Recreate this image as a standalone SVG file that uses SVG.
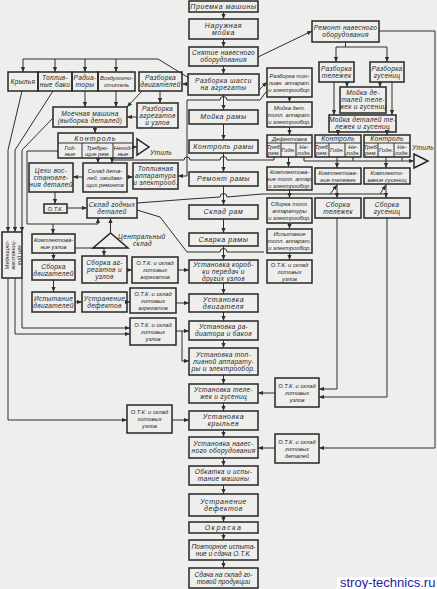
<svg xmlns="http://www.w3.org/2000/svg" width="437" height="589" viewBox="0 0 437 589">
<style>
.b{fill:none;stroke:#262626;stroke-width:1.5}
.t{font-family:"Liberation Sans",Arial,sans-serif;font-style:italic;font-size:6.6px;letter-spacing:0.3px;fill:#262626;text-anchor:middle}
.m{font-size:7px;letter-spacing:0.6px}
.s{font-size:5.8px;letter-spacing:0}
.c{fill:none;stroke:#2e2e2e;stroke-width:1}
.ca{fill:none;stroke:#2e2e2e;stroke-width:1;marker-end:url(#a)}
</style>
<defs>
<marker id="a" viewBox="0 0 6 6" refX="6" refY="3" markerWidth="5" markerHeight="5" markerUnits="userSpaceOnUse" orient="auto"><path d="M0,0.5 L6,3 L0,5.5z" fill="#2e2e2e"/></marker>
</defs>
<rect width="437" height="589" fill="#eeeeec"/>

<!-- main column -->
<g id="n1"><rect class="b" x="189" y="1" width="69" height="11"/><text class="t m" x="223.5" y="9">Приемка машины</text></g>
<g id="n2"><rect class="b" x="189" y="19" width="69" height="20"/><text class="t m" x="223.5" y="27.8">Наружная<tspan x="223.5" dy="7">мойка</tspan></text></g>
<g id="n3"><rect class="b" x="189" y="47" width="69" height="19"/><text class="t" x="223.5" y="55.3">Снятие навесного<tspan x="223.5" dy="7">оборудования</tspan></text></g>
<g id="n4"><rect class="b" x="188" y="74" width="71" height="21"/><text class="t" x="223.5" y="83.3" style="letter-spacing:0.5px">Разборка шасси<tspan x="223.5" dy="7">на агрегаты</tspan></text></g>
<g id="n5"><rect class="b" x="189" y="110" width="69" height="14"/><text class="t m" x="223.5" y="119.3">Мойка рамы</text></g>
<g id="n6"><rect class="b" x="189" y="140" width="69" height="13"/><text class="t m" x="223.5" y="148.8">Контроль рамы</text></g>
<g id="n7"><rect class="b" x="189" y="172" width="69" height="14"/><text class="t m" x="223.5" y="181.3">Ремонт рамы</text></g>
<g id="n8"><rect class="b" x="189" y="205" width="69" height="14"/><text class="t m" x="223.5" y="214.3">Склад рам</text></g>
<g id="n9"><rect class="b" x="189" y="233" width="69" height="13"/><text class="t m" x="223.5" y="241.8">Сварка рамы</text></g>
<g id="n10"><rect class="b" x="189" y="260" width="69" height="23"/><text class="t" x="223.5" y="266.8">Установка короб-<tspan x="223.5" dy="7">ки передач и</tspan><tspan x="223.5" dy="7">других узлов</tspan></text></g>
<g id="n11"><rect class="b" x="189" y="294" width="69" height="18"/><text class="t m" x="223.5" y="301.8">Установка<tspan x="223.5" dy="7">двигателя</tspan></text></g>
<g id="n12"><rect class="b" x="189" y="321" width="69" height="19"/><text class="t" x="223.5" y="329.3">Установка ра-<tspan x="223.5" dy="7">диатора и баков</tspan></text></g>
<g id="n13"><rect class="b" x="189" y="348" width="69" height="27"/><text class="t" x="223.5" y="356.8">Установка топ-<tspan x="223.5" dy="7">ливной аппарату-</tspan><tspan x="223.5" dy="7">ры и электрообор.</tspan></text></g>
<g id="n14"><rect class="b" x="189" y="384" width="69" height="19"/><text class="t" x="223.5" y="392.3">Установка теле-<tspan x="223.5" dy="7">жек и гусениц</tspan></text></g>
<g id="n15"><rect class="b" x="189" y="411" width="69" height="19"/><text class="t m" x="223.5" y="419.3">Установка<tspan x="223.5" dy="7">крыльев</tspan></text></g>
<g id="n16"><rect class="b" x="189" y="437" width="69" height="21"/><text class="t" x="223.5" y="446.3">Установка навес-<tspan x="223.5" dy="7">ного оборудования</tspan></text></g>
<g id="n17"><rect class="b" x="189" y="466" width="69" height="19"/><text class="t" x="223.5" y="474.3">Обкатка и испы-<tspan x="223.5" dy="7">тание машины</tspan></text></g>
<g id="n18"><rect class="b" x="189" y="494" width="69" height="22"/><text class="t m" x="223.5" y="503.8">Устранение<tspan x="223.5" dy="7">дефектов</tspan></text></g>
<g id="n19"><rect class="b" x="189" y="522" width="69" height="11"/><text class="t m" x="223.5" y="529.8" style="letter-spacing:1.5px">Окраска</text></g>
<g id="n20"><rect class="b" x="189" y="540" width="69" height="20"/><text class="t" x="223.5" y="548.8" style="letter-spacing:0">Повторное испыта-<tspan x="223.5" dy="7">ние и сдача О.Т.К.</tspan></text></g>
<g id="n21"><rect class="b" x="189" y="568" width="69" height="20"/><text class="t" x="223.5" y="576.8" style="letter-spacing:0">Сдача на склад го-<tspan x="223.5" dy="7">товой продукции</tspan></text></g>

<!-- left top -->
<g id="krylya"><rect class="b" x="8" y="72" width="30" height="19"/><text class="t" x="23" y="83.8">Крылья</text></g>
<g id="baki"><rect class="b" x="38" y="72" width="34" height="19"/><text class="t" x="55" y="80.3">Топлив-<tspan x="55" dy="7">ные баки</tspan></text></g>
<g id="radiatory"><rect class="b" x="72" y="72" width="26" height="19"/><text class="t" x="85" y="80.3">Радиа-<tspan x="85" dy="7">торы</tspan></text></g>
<g id="vozduh"><rect class="b" x="98" y="72" width="37" height="19"/><text class="t s" x="116.5" y="80.3">Воздухоочи-<tspan x="116.5" dy="7">ститель</tspan></text></g>
<g id="razb_dv"><rect class="b" x="139" y="72" width="43" height="19"/><text class="t" x="160.5" y="80.3">Разборка<tspan x="160.5" dy="7">двигателей</tspan></text></g>
<g id="moech"><rect class="b" x="53" y="107" width="74" height="20"/><text class="t" x="90" y="115.8">Моечная машина<tspan x="90" dy="7">(выборка деталей)</tspan></text></g>
<g id="razb_agr"><rect class="b" x="137" y="103" width="41" height="25"/><text class="t" x="157.5" y="110.8">Разборка<tspan x="157.5" dy="7">агрегатов</tspan><tspan x="157.5" dy="7">и узлов</tspan></text></g>
<g id="kontrol_l"><rect class="b" x="58" y="133" width="75" height="25"/><path class="c" d="M58,143H133M82,143V158M113,143V158"/><text class="t m" x="95.5" y="140.5" style="letter-spacing:1.2px">Контроль</text><text class="t s" x="70" y="149.5">Год-<tspan x="70" dy="6">ные</tspan></text><text class="t s" x="97.5" y="149.5">Требую-<tspan x="97.5" dy="6">щие рем.</tspan></text><text class="t s" x="123" y="149.5">Негод-<tspan x="123" dy="6">ные</tspan></text></g>
<g id="util_l"><path class="b" d="M137,139V155L149,147Z"/><text class="t" x="150" y="155" style="text-anchor:start">Утиль</text></g>
<g id="cehi"><rect class="b" x="29" y="163" width="44" height="29"/><text class="t" x="51" y="172.8">Цехи вос-<tspan x="51" dy="7">становле-</tspan><tspan x="51" dy="7">ния деталей</tspan></text></g>
<g id="sklad_ozh"><rect class="b" x="83" y="163" width="44" height="29"/><text class="t s" x="105" y="172.8">Склад дета-<tspan x="105" dy="7">лей, ожидаю-</tspan><tspan x="105" dy="7">щих ремонта</tspan></text></g>
<g id="topl_l"><rect class="b" x="133" y="163" width="45" height="26"/><text class="t" x="155.5" y="171.3">Топливная<tspan x="155.5" dy="7">аппаратура</tspan><tspan x="155.5" dy="7">и электрооб.</tspan></text></g>
<g id="otk_l"><rect class="b" x="44" y="204" width="23" height="9"/><text class="t s" x="55.5" y="210.8">О.Т.К.</text></g>
<g id="sklad_god"><rect class="b" x="87" y="198" width="50" height="20"/><text class="t" x="112" y="206.8">Склад годных<tspan x="112" dy="7">деталей</tspan></text></g>
<g id="central"><path class="b" d="M93,248H128L110.5,233Z"/><text class="t" x="118" y="238.5" style="text-anchor:start">Центральный</text><text class="t" x="133" y="245.5" style="text-anchor:start">склад</text></g>
<g id="mednic"><rect class="b" x="2" y="232" width="20" height="46"/><text class="t s" transform="translate(12,255) rotate(-90)"><tspan x="0" y="-3.5">Медницко-</tspan><tspan x="0" y="2.5">жестяниц-</tspan><tspan x="0" y="8.5">кий цех</tspan></text></g>
<g id="kompl_uz"><rect class="b" x="32" y="234" width="43" height="19"/><text class="t s" x="53.5" y="242.3">Комплектова-<tspan x="53.5" dy="7">ние узлов</tspan></text></g>
<g id="sb_dv"><rect class="b" x="32" y="260" width="43" height="20"/><text class="t" x="53.5" y="268.8">Сборка<tspan x="53.5" dy="7">двигателей</tspan></text></g>
<g id="sb_agr"><rect class="b" x="82" y="256" width="45" height="27"/><text class="t" x="104.5" y="264.8">Сборка аг-<tspan x="104.5" dy="7">регатов и</tspan><tspan x="104.5" dy="7">узлов</tspan></text></g>
<g id="otkA"><rect class="b" x="132" y="257" width="46" height="26"/><text class="t s" x="155" y="265.3">О.Т.К. и склад<tspan x="155" dy="7">готовых</tspan><tspan x="155" dy="7">агрегатов</tspan></text></g>
<g id="isp_dv"><rect class="b" x="32" y="292" width="43" height="20"/><text class="t" x="53.5" y="300.8">Испытание<tspan x="53.5" dy="7">двигателей</tspan></text></g>
<g id="ustr_l"><rect class="b" x="82" y="292" width="45" height="20"/><text class="t" x="104.5" y="300.8">Устранение<tspan x="104.5" dy="7">дефектов</tspan></text></g>
<g id="otkB"><rect class="b" x="130" y="288" width="46" height="25"/><text class="t s" x="153" y="295.8">О.Т.К. и склад<tspan x="153" dy="7">готовых</tspan><tspan x="153" dy="7">агрегатов</tspan></text></g>
<g id="otkC"><rect class="b" x="130" y="318" width="46" height="27"/><text class="t s" x="153" y="326.8">О.Т.К. и склад<tspan x="153" dy="7">готовых</tspan><tspan x="153" dy="7">узлов</tspan></text></g>
<g id="otkD"><rect class="b" x="127" y="405" width="45" height="28"/><text class="t s" x="149.5" y="414.3">О.Т.К. и склад<tspan x="149.5" dy="7">готовых</tspan><tspan x="149.5" dy="7">узлов</tspan></text></g>

<!-- right -->
<g id="rem_nav"><rect class="b" x="312" y="21" width="67" height="21"/><text class="t" x="345.5" y="29.8">Ремонт навесного<tspan x="345.5" dy="7">оборудования</tspan></text></g>
<g id="razb_tel"><rect class="b" x="319" y="62" width="35" height="20"/><text class="t" x="336.5" y="70.8">Разборка<tspan x="336.5" dy="7">тележек</tspan></text></g>
<g id="razb_gus"><rect class="b" x="370" y="62" width="34" height="20"/><text class="t" x="387" y="70.8">Разборка<tspan x="387" dy="7">гусениц</tspan></text></g>
<g id="moika_up"><rect class="b" x="340" y="87" width="46" height="26"/><text class="t" x="363" y="95.3">Мойка де-<tspan x="363" dy="7">талей теле-</tspan><tspan x="363" dy="7">жек и гусениц</tspan></text></g>
<g id="moika_low"><rect class="b" x="329" y="115" width="67" height="17"/><text class="t" x="362.5" y="122.3">Мойка деталей те-<tspan x="362.5" dy="7">лежек и гусениц</tspan></text></g>
<g id="kontr_r1"><rect class="b" x="315" y="135" width="46" height="22"/><path class="c" d="M315,143H361M329,143V157M345,143V157"/><text class="t" x="338" y="141.3">Контроль</text><text class="t s" x="322" y="149">Треб.<tspan x="322" dy="6">рем.</tspan></text><text class="t s" x="337" y="152">Годн.</text><text class="t s" x="353" y="149">Не-<tspan x="353" dy="6">годн.</tspan></text></g>
<g id="kontr_r2"><rect class="b" x="364" y="135" width="46" height="22"/><path class="c" d="M364,143H410M378,143V157M394,143V157"/><text class="t" x="387" y="141.3">Контроль</text><text class="t s" x="371" y="149">Треб.<tspan x="371" dy="6">рем.</tspan></text><text class="t s" x="386" y="152">Годн.</text><text class="t s" x="402" y="149">Не-<tspan x="402" dy="6">годн.</tspan></text></g>
<g id="util_r"><path class="b" d="M414,154V168L428,161Z"/><text class="t" x="412" y="150" style="text-anchor:start">Утиль</text></g>
<g id="kompl_tel"><rect class="b" x="315" y="168" width="46" height="16"/><text class="t s" x="338" y="174.8">Комплектова-<tspan x="338" dy="7">ние тележек</tspan></text></g>
<g id="kompl_gus"><rect class="b" x="364" y="168" width="46" height="16"/><text class="t s" x="387" y="174.8">Комплекто-<tspan x="387" dy="7">вание гусениц</tspan></text></g>
<g id="sb_tel"><rect class="b" x="315" y="198" width="46" height="20"/><text class="t" x="338" y="206.8">Сборка<tspan x="338" dy="7">тележек</tspan></text></g>
<g id="sb_gus"><rect class="b" x="364" y="198" width="46" height="20"/><text class="t" x="387" y="206.8">Сборка<tspan x="387" dy="7">гусениц</tspan></text></g>

<g id="razb_topl"><rect class="b" x="267" y="68" width="45" height="29"/><text class="t s" x="289.5" y="77.8">Разборка топ-<tspan x="289.5" dy="7">ливн. аппарат.</tspan><tspan x="289.5" dy="7">и электрообор.</tspan></text></g>
<g id="moika_topl"><rect class="b" x="267" y="102" width="45" height="25"/><text class="t s" x="289.5" y="109.8">Мойка дет.<tspan x="289.5" dy="7">топл. аппарат.</tspan><tspan x="289.5" dy="7">и электрообор.</tspan></text></g>
<g id="defekt"><rect class="b" x="267" y="135" width="45" height="22"/><path class="c" d="M267,143H312M281,143V157M296,143V157"/><text class="t s" x="289.5" y="141.3">Дефектовка</text><text class="t s" x="274" y="149">Треб.<tspan x="274" dy="6">рем.</tspan></text><text class="t s" x="288.5" y="152">Годн.</text><text class="t s" x="304" y="149">Не-<tspan x="304" dy="6">годн.</tspan></text></g>
<g id="kompl_topl"><rect class="b" x="267" y="167" width="45" height="23"/><text class="t s" x="289.5" y="173.8">Комплектова-<tspan x="289.5" dy="7">ние топл. аппар.</tspan><tspan x="289.5" dy="7">и электрообор.</tspan></text></g>
<g id="sb_topl"><rect class="b" x="267" y="198" width="45" height="25"/><text class="t s" x="289.5" y="205.8">Сборка топл.<tspan x="289.5" dy="7">аппаратуры</tspan><tspan x="289.5" dy="7">и электрообор.</tspan></text></g>
<g id="isp_topl"><rect class="b" x="267" y="229" width="45" height="24"/><text class="t s" x="289.5" y="236.3">Испытание<tspan x="289.5" dy="7">топл. аппарат.</tspan><tspan x="289.5" dy="7">и электрообор.</tspan></text></g>
<g id="otkG"><rect class="b" x="267" y="260" width="45" height="23"/><text class="t s" x="289.5" y="266.8">О.Т.К. и склад<tspan x="289.5" dy="7">готовых</tspan><tspan x="289.5" dy="7">узлов</tspan></text></g>
<g id="otkE"><rect class="b" x="275" y="378" width="44" height="29"/><text class="t s" x="297" y="387.8">О.Т.К. и склад<tspan x="297" dy="7">готовых</tspan><tspan x="297" dy="7">узлов</tspan></text></g>
<g id="otkF"><rect class="b" x="275" y="434" width="44" height="29"/><text class="t s" x="297" y="443.8">О.Т.К. и склад<tspan x="297" dy="7">готовых</tspan><tspan x="297" dy="7">деталей</tspan></text></g>

<g id="connectors">
<path class="ca" d="M223.5,12V19"/><path class="ca" d="M223.5,39V47"/><path class="ca" d="M223.5,66V74"/>
<path class="ca" d="M223.5,95V110"/><path class="ca" d="M223.5,124V140"/><path class="ca" d="M223.5,153V172"/>
<path class="ca" d="M223.5,186V205"/><path class="ca" d="M223.5,219V233"/><path class="ca" d="M223.5,246V260"/>
<path class="ca" d="M223.5,283V294"/><path class="ca" d="M223.5,312V321"/><path class="ca" d="M223.5,340V348"/>
<path class="ca" d="M223.5,375V384"/><path class="ca" d="M223.5,403V411"/><path class="ca" d="M223.5,430V437"/>
<path class="ca" d="M223.5,458V466"/><path class="ca" d="M223.5,485V494"/><path class="ca" d="M223.5,516V522"/>
<path class="ca" d="M223.5,533V540"/><path class="ca" d="M223.5,560V568"/>
<path class="c" d="M189,78L158,59H23"/>
<path class="ca" d="M23,59V72"/><path class="ca" d="M55,59V72"/><path class="ca" d="M85,59V72"/><path class="ca" d="M116,59V72"/>
<path class="ca" d="M188,84H182"/>
<path class="ca" d="M160,91V103"/>
<path class="ca" d="M142,91L127,107"/>
<path class="ca" d="M85,91V107"/><path class="ca" d="M116,91V107"/>
<path class="ca" d="M137,117H127"/>
<path class="ca" d="M22,91L8,150V232"/>
<path class="ca" d="M53,91L15,150V232"/>
<path class="ca" d="M53,118L22,150V232"/>
<path class="ca" d="M22,278V328H130"/>
<path class="ca" d="M15,278V334H130"/>
<path class="ca" d="M8,278V420H127"/>
<path class="ca" d="M95,127V133"/>
<path class="ca" d="M133,147H137"/>
<path class="ca" d="M58,151H27V224H98V218"/>
<path class="ca" d="M53,224V234"/>
<path class="ca" d="M98,158V163"/>
<path class="ca" d="M83,177H73"/>
<path class="ca" d="M127,177H133"/>
<path class="ca" d="M55,192V204"/>
<path class="ca" d="M67,208H87"/>
<path class="ca" d="M110.5,233V218"/>
<path class="ca" d="M53.5,253V260"/>
<path class="ca" d="M75,248H104V256"/>
<path class="ca" d="M127,270H132"/>
<path class="ca" d="M53.5,280V292"/>
<path class="ca" d="M75,302H82"/>
<path class="ca" d="M127,302H130"/>
<path class="ca" d="M178,270H189"/>
<path class="ca" d="M176,303H189"/>
<path class="ca" d="M176,331H189"/>
<path class="ca" d="M182,331V361H189"/>
<path class="ca" d="M172,420H189"/>
<path class="ca" d="M266,92L260,100H227A3.5,3.5 0 0 0 220,100H187V176H178"/>
<path class="ca" d="M274,157V160H227A3.5,3.5 0 0 0 220,160H190A3,3 0 0 0 184,160H112V163"/>
<path class="c" d="M137,203L190,199L220,197A3.5,3.5 0 0 1 227,197L262,194H384"/>
<path class="ca" d="M330,194L337,185"/><path class="ca" d="M380,194L386,185"/>
<path class="c" d="M137,210L160,217L187,252H220A3.5,3.5 0 0 1 227,252H264"/>
<path class="ca" d="M258,57L312,31"/>
<path class="ca" d="M259,90L267,82"/>
<path class="c" d="M345.5,42V47M336,47H387"/>
<path class="ca" d="M336,47V62"/><path class="ca" d="M387,47V62"/>
<path class="ca" d="M347,82V87"/><path class="ca" d="M380,82V87"/>
<path class="ca" d="M334,82V115"/><path class="ca" d="M392,82V115"/>
<path class="ca" d="M338,132V135"/><path class="ca" d="M387,132V135"/>
<path class="ca" d="M337,157V168"/><path class="ca" d="M386,157V168"/>
<path class="c" d="M304,157V161M353,157V161M402,157V161"/>
<path class="ca" d="M304,161H414"/>
<path class="ca" d="M337,184V198"/><path class="ca" d="M386,184V198"/>
<path class="ca" d="M337,218V389H319"/>
<path class="ca" d="M387,218V397H319"/>
<path class="ca" d="M275,393H258"/>
<path class="ca" d="M379,31H435V448H319"/>
<path class="ca" d="M275,448H258"/>
<path class="ca" d="M289.5,97V102"/><path class="ca" d="M289.5,127V135"/><path class="ca" d="M288.5,157V167"/>
<path class="ca" d="M289.5,190V198"/><path class="ca" d="M289.5,223V229"/><path class="ca" d="M289.5,253V260"/>
</g>

<rect x="337" y="577" width="100" height="12" fill="#ffffff"/>
<text x="340" y="587" style="font-family:'Liberation Sans',Arial,sans-serif;font-size:13px;fill:#1a1aa0">stroy-technics.ru</text>
</svg>
